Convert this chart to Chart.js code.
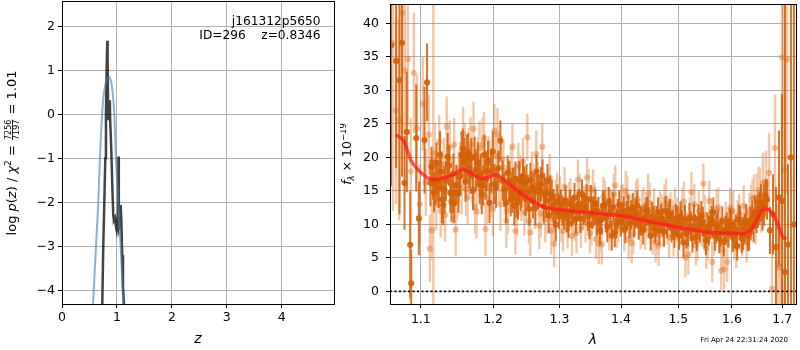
<!DOCTYPE html>
<html><head><meta charset="utf-8">
<script src="https://cdn.jsdelivr.net/npm/chart.js@4.4.0/dist/chart.umd.min.js"></script>
<style>
html,body{margin:0;padding:0;background:#fff;}
#wrap{position:relative;width:800px;height:350px;overflow:hidden;background:#fff}
canvas{position:absolute;top:0}
#c1{left:0}
#c2{left:340px}
</style></head><body>
<div id="wrap"><canvas id="c1" width="340" height="350"></canvas><canvas id="c2" width="460" height="350"></canvas></div>
<script>
// ---------------- left panel: p(z) ----------------
const zTicks = [0, 1, 2, 3, 4];
const lnpTicks = [-4, -3, -2, -1, 0, 1, 2];
const zDark   = [0.733, 0.751, 0.770, 0.788, 0.800, 0.812, 0.824, 0.830, 0.842, 0.858, 0.870, 0.876, 0.897, 0.915, 0.933, 0.945, 0.964, 0.982, 0.994, 1.006, 1.018, 1.028, 1.034, 1.045, 1.055, 1.067, 1.080, 1.095, 1.110, 1.127];
const lnpDark = [-4.31, -3.0, -2.0, -1.0, 0.0, 1.0, 1.67, 1.2, -0.13, 0.0, 0.32, -0.1, -0.8, -1.6, -2.3, -2.4, -2.35, -2.55, -2.63, -2.48, -2.55, -0.96, -2.63, -2.55, -2.3, -2.06, -2.4, -3.2, -3.9, -4.31];
const zBlue   = [0.565, 0.618, 0.660, 0.690, 0.730, 0.764, 0.810, 0.861, 0.900, 0.922, 0.952, 0.982, 1.024, 1.067, 1.115];
const lnpBlue = [-4.31, -3.0, -2.0, -1.0, 0.0, 0.5, 0.78, 0.855, 0.70, 0.5, 0.0, -1.0, -2.0, -3.0, -4.31];
const objName = 'j161312p5650';
const objInfo = 'ID=296    z=0.8346';

// ---------------- right panel: spectrum ----------------
const lamTicks = [1.1, 1.2, 1.3, 1.4, 1.5, 1.6, 1.7];
const fluxTicks = [0, 5, 10, 15, 20, 25, 30, 35, 40];
const dateText = 'Fri Apr 24 22:31:24 2020';

const darkLam = [1.0612,1.0678,1.0721,1.0754,1.0786,1.0816,1.0860,1.0873,1.0939,1.0974,1.1049,1.1083,1.1128,1.1159,1.1195,1.1226,1.1257,1.1284,1.1316,1.1361,1.1398,1.1429,1.1452,1.1511,1.1553,1.1590,1.1626,1.1659,1.1691,1.1737,1.1757,1.1806,1.1838,1.1876,1.1909,1.1948,1.1995,1.2019,1.2044,1.2106,1.2139,1.2189,1.2238,1.2277,1.2311,1.2345,1.2385,1.2419,1.2460,1.2494,1.2535,1.2570,1.2610,1.2645,1.2686,1.2736,1.2773,1.2813,1.2854,1.2905,1.2942,1.2993,
 1.3024,1.3071,1.3118,1.3165,1.3213,1.3260,1.3308,1.3356,1.3404,1.3453,1.3501,1.3550,1.3599,1.3648,1.3697,1.3746,1.3795,1.3845,1.3895,1.3945,1.3995,1.4046,1.4096,1.4147,1.4198,1.4249,1.4300,1.4352,1.4404,1.4456,1.4508,1.4560,1.4613,1.4665,1.4718,1.4771,1.4824,1.4878,1.4931,1.4985,1.5039,1.5093,1.5148,1.5202,1.5257,1.5312,1.5366,1.5422,1.5478,1.5533,1.5589,1.5645,1.5702,1.5758,1.5815,1.5872,1.5929,1.5987,1.6044,1.6102,1.6160,1.6219,1.6277,1.6336,1.6395,1.6454,1.6511,1.6571,1.6631,1.6691,1.6751,1.6812,1.6872,1.6933,1.6994,1.7056,1.7117,1.7179,1.7241];
const darkFlux = [36.7,34.4,31.5,37.1,16.2,23.8,6.95,1.2,22.9,10.9,22.6,31.2,16.2,16.7,16.0,16.4,20.4,13.7,15.2,20.1,14.7,14.7,13.2,14.7,20.4,19.4,19.9,18.4,19.9,20.1,18.2,16.0,14.5,20.4,18.0,13.2,20.9,16.0,15.5,22.5,16.5,13.2,16.5,14.7,12.8,14.0,16.5,15.0,16.2,16.5,12.3,15.5,15.2,17.9,15.0,17.2,14.5,16.5,14.7,12.8,10.0,11.8,
 13.0,11.5,11.0,13.0,12.2,10.8,13.1,14.5,12.5,11.2,13.7,12.0,10.5,9.1,12.8,11.0,13.4,8.3,8.8,11.6,10.4,12.0,11.3,10.1,12.5,11.6,9.9,10.5,11.0,12.0,8.3,10.5,10.5,9.1,10.3,12.0,11.3,9.5,8.7,10.5,11.2,7.3,8.6,11.0,8.0,9.3,10.8,11.3,8.6,9.6,10.0,11.8,9.3,7.9,10.5,9.1,8.8,10.0,8.6,6.8,10.3,8.6,10.5,8.6,11.0,11.8,12.0,13.2,12.8,13.7,9.1,11.5,6.6,14.0,13.5,2.9,7.0,20.0,10.0];
const darkErr = [21,16,20,20,7,9,8,5,8,5.5,8,5.8,3.5,3,3,3,3.5,3.5,3.5,3.5,3,3,3,3,3.5,3.5,3.5,3,3,3,3,3,3,3,3,3,3,3,3,3,3,3,3,3,3,3,3,2.5,2.5,2.5,2.5,2.5,2.5,2.5,2.5,2.5,2.5,2.5,2.5,2.5,2.5,2.5,
 2.2,2.2,2.2,2.2,2.2,2.2,2.2,2.2,2.2,2.2,2.2,2.2,2.2,2.2,2.2,2.2,2.2,2.2,2.2,2.2,2.2,2.2,2.2,2.2,2.2,2.2,2.2,2.2,2.2,2.2,2.2,2.2,2.2,2.2,2.2,2.2,2.2,2.2,2.2,2.2,2.2,2.2,2.2,2.2,2.2,2.2,2.2,2.2,2.2,2.2,2.2,2.2,2.2,2.2,2.2,2.2,2.2,2.2,2.2,2.2,2.5,2.5,2.5,2.5,2.5,2.5,2.5,2.8,3,3,3.5,6,9,10,16,45,12,25,35];

// second (interleaved) set of darker spectrum pixels
const darkLam2 = [1.1143,1.1177,1.1210,1.1241,1.1270,1.1300,1.1338,1.1380,1.1414,1.1440,1.1480,1.1532,1.1571,1.1608,1.1642,1.1675,1.1714,1.1782,1.1822,1.1857,1.1892,1.1928,1.1971,1.2075,1.2164,1.2213,1.2258,1.2294,1.2328,1.2365,1.2402,1.2440,1.2477,1.2514,1.2552,1.2590,1.2628,1.2666,1.2711,1.2755,1.2793,1.2834,1.2880,1.2924,1.2968,
 1.3048,1.3095,1.3142,1.3189,1.3237,1.3284,1.3332,1.3380,1.3429,1.3477,1.3526,1.3575,1.3624,1.3673,1.3722,1.3771,1.3820,1.3870,1.3920,1.3970,1.4021,1.4071,1.4122,1.4173,1.4224,1.4275,1.4326,1.4378,1.4430,1.4482,1.4534,1.4587,1.4639,1.4692,1.4745,1.4798,1.4851,1.4905,1.4958,1.5012,1.5066,1.5121,1.5175,1.5230,1.5285,1.5339,1.5394,1.5450,1.5506,1.5561,1.5617,1.5674,1.5730,1.5787,1.5844,1.5901,1.5958,1.6016,1.6073,1.6131,1.6190,1.6248,1.6307,1.6366,1.6425,1.6483,1.6541,1.6601,1.6661];
const darkFlux2 = [18.6,14.8,19.2,15.4,17.9,12.9,16.5,18.8,13.4,17.6,15.9,17.2,21.3,16.4,20.6,17.5,15.1,19.3,17.6,15.8,16.7,19.5,17.9,18.4,15.2,17.7,13.8,15.9,16.8,13.3,14.6,17.2,13.9,14.8,16.6,13.5,12.4,14.9,16.0,12.7,13.6,11.3,14.1,12.0,13.4,
 12.0,13.6,10.2,11.8,14.0,12.7,10.9,12.2,13.8,10.0,11.5,13.1,11.9,10.7,12.9,9.6,11.8,12.6,10.1,12.9,11.0,9.4,12.2,11.4,10.3,12.8,10.6,9.2,11.9,10.4,11.2,9.4,11.8,10.9,8.9,10.2,11.6,9.9,10.8,8.4,9.9,10.7,8.9,9.7,10.9,8.2,9.5,10.4,7.6,9.0,10.6,8.3,9.9,8.8,7.4,9.6,10.3,8.1,9.3,10.8,7.9,9.4,8.2,10.1,9.8,11.2,12.4,11.6,14.3];
const darkErr2 = [3,3,3,3,3,3,3,3,3,3,3,3,3,3,3,3,3,3,3,3,3,3,3,2.6,2.6,2.6,2.6,2.6,2.6,2.6,2.6,2.6,2.6,2.6,2.6,2.6,2.6,2.6,2.6,2.6,2.6,2.6,2.6,2.6,2.6,
 2.2,2.2,2.2,2.2,2.2,2.2,2.2,2.2,2.2,2.2,2.2,2.2,2.2,2.2,2.2,2.2,2.2,2.2,2.2,2.2,2.2,2.2,2.2,2.2,2.2,2.2,2.2,2.2,2.2,2.2,2.2,2.2,2.2,2.2,2.2,2.2,2.2,2.2,2.2,2.2,2.2,2.2,2.2,2.2,2.2,2.2,2.2,2.2,2.2,2.2,2.2,2.2,2.2,2.2,2.2,2.2,2.2,2.2,2.2,2.2,2.2,2.2,2.2,2.5,2.5,2.5,2.5,2.5,2.5];

const lightLam = [1.0637,1.0677,1.0716,1.0755,1.0791,1.0830,1.0869,1.0909,1.0948,1.0987,1.1026,1.1066,1.1106,1.1120,1.1146,1.1186,1.1226,1.1266,1.1307,1.1348,1.1389,1.1430,1.1471,1.1512,1.1554,1.1595,1.1637,1.1679,1.1721,1.1764,1.1806,1.1849,1.1891,1.1934,1.1977,1.2020,1.2064,1.2107,1.2151,1.2194,1.2238,1.2283,1.2327,1.2371,1.2416,1.2461,1.2506,1.2551,1.2596,1.2641,1.2686,1.2732,1.2778,1.2824,1.2870,1.2916,1.2962,
 1.3008,1.3055,1.3102,1.3150,1.3197,1.3244,1.3292,1.3340,1.3388,1.3437,1.3485,1.3534,1.3583,1.3631,1.3680,1.3730,1.3779,1.3829,1.3878,1.3928,1.3978,1.4029,1.4079,1.4130,1.4181,1.4232,1.4283,1.4335,1.4386,1.4438,1.4490,1.4543,1.4595,1.4647,1.4700,1.4753,1.4806,1.4860,1.4913,1.4967,1.5021,1.5075,1.5129,1.5183,1.5238,1.5293,1.5348,1.5403,1.5459,1.5514,1.5570,1.5626,1.5683,1.5739,1.5796,1.5853,1.5910,1.5967,1.6025,1.6083,1.6141,1.6199,1.6258,1.6315,1.6374,1.6433,1.6492,1.6551,1.6611,1.6671,1.6731,1.6792,1.6852,1.6912,1.6953,1.6994,1.7035,1.7097];
const lightFlux = [37.0,27.0,25.6,41.6,33.0,34.7,17.9,32.6,24.3,13.0,28.0,16.3,23.4,6.4,9.1,20.6,16.5,12.0,18.9,24.6,21.5,14.0,9.2,17.0,15.5,21.1,14.0,22.0,24.3,11.9,21.4,21.9,9.3,19.2,15.0,24.0,23.4,13.0,18.5,10.5,16.0,21.6,9.0,18.7,14.0,11.8,23.0,8.8,15.5,20.5,9.8,21.6,10.8,15.0,9.0,7.1,14.2,
 14.2,9.0,12.0,13.3,8.3,10.5,16.7,9.5,12.8,17.0,8.7,15.2,7.8,7.1,7.0,13.6,10.2,12.3,14.5,9.5,11.8,13.0,15.0,7.8,7.2,12.0,13.8,9.3,12.5,10.8,13.2,8.5,7.3,6.8,11.5,13.0,10.0,11.8,8.2,11.0,9.5,12.5,5.1,5.5,14.8,13.0,7.5,10.2,16.1,6.4,13.5,4.4,9.0,12.5,3.1,3.3,4.4,12.5,12.0,6.5,11.5,8.2,10.0,9.5,12.4,14.0,13.6,14.5,16.2,16.0,17.7,0.4,21.4,4.1,3.6,34.9,18.2,34.6];
const lightErr = [25,14,15,18,12,10,8,9,8,6,7,5,6,5,4.5,4.5,4,4,4,4.5,4,4,4,4,4,4,4,4,4,4,4,4,4,4,4,4,4,4,4,4,3.5,3.5,3.5,3.5,3.5,3.5,3.5,3.5,3.5,3.5,3.5,3.5,3.5,3.5,3.5,3.5,3.5,
 3,3,3,3,3,3,3,3,3,3,3,3,3,3,3,3,3,3,3,3,3,3,3,3,3,3,3,3,3,3,3,3,3,3,3,3,3,3,3,3,3,3,3,3,3,3,3,3,3,3,3,3,3,3,3,3,3,3,3,3,3,3,3,3,3.5,3.5,4,4,4.5,5,6,7,8,9,10,12,30,20,30];

// second (interleaved) set of lighter spectrum pixels
const lightLam2 = [1.1166,1.1206,1.1246,1.1287,1.1328,1.1369,1.1410,1.1451,1.1492,1.1533,1.1575,1.1616,1.1658,1.1700,1.1743,1.1785,1.1828,1.1870,1.1913,1.1956,1.1999,1.2042,1.2086,1.2129,1.2173,1.2216,1.2261,1.2305,1.2349,1.2394,1.2439,1.2484,1.2529,1.2574,1.2619,1.2664,1.2709,1.2755,1.2801,1.2847,1.2893,1.2939,
 1.3031,1.3079,1.3126,1.3174,1.3221,1.3268,1.3316,1.3364,1.3413,1.3461,1.3510,1.3559,1.3607,1.3656,1.3705,1.3755,1.3804,1.3854,1.3903,1.3953,1.4004,1.4054,1.4105,1.4156,1.4207,1.4258,1.4309,1.4361,1.4412,1.4464,1.4517,1.4569,1.4621,1.4674,1.4727,1.4780,1.4833,1.4887,1.4940,1.4994,1.5048,1.5102,1.5156,1.5211,1.5266,1.5321,1.5376,1.5431,1.5487,1.5542,1.5598,1.5655,1.5711,1.5768,1.5825,1.5882,1.5939,1.5996,1.6054,1.6112,1.6170,1.6229,1.6287,1.6345,1.6404,1.6463,1.6522,1.6581];
const lightFlux2 = [19.5,13.1,22.3,17.0,11.4,19.8,16.1,21.9,14.6,18.3,23.5,15.2,20.4,17.1,12.6,19.0,16.3,22.8,14.0,18.6,12.3,20.2,16.7,19.7,14.9,12.1,18.0,15.3,11.7,16.9,19.4,13.6,10.5,17.4,12.8,15.9,11.6,14.3,12.0,17.0,10.9,13.2,
 10.8,15.6,9.4,13.9,11.2,8.7,14.6,12.1,10.3,15.3,9.8,13.2,11.0,8.9,14.1,12.6,9.1,11.6,15.8,10.4,12.9,9.0,14.3,11.3,8.6,13.5,10.8,12.1,9.2,14.6,10.1,12.4,8.4,11.9,9.6,13.8,8.1,10.7,12.5,7.9,10.6,13.4,8.8,11.1,9.4,6.9,12.0,9.7,11.4,7.6,10.9,8.3,12.3,9.1,6.2,10.4,9.5,11.9,7.7,10.6,9.1,12.8,7.3,11.7,13.8,10.5,15.1,12.3];
const lightErr2 = [4,4,4,4,4,4,4,4,4,4,4,4,4,4,4,4,4,4,4,4,3.5,3.5,3.5,3.5,3.5,3.5,3.5,3.5,3.5,3.5,3.5,3.5,3.5,3.5,3.5,3.5,3.5,3.5,3.5,3.5,3.5,3.5,
 3,3,3,3,3,3,3,3,3,3,3,3,3,3,3,3,3,3,3,3,3,3,3,3,3,3,3,3,3,3,3,3,3,3,3,3,3,3,3,3,3,3,3,3,3,3,3,3,3,3,3,3,3,3,3,3,3,3,3,3,3,3,3,3,3.5,3.5,3.5,3.5];

const modelLam  = [1.0672,1.0749,1.0791,1.0878,1.0987,1.1119,1.1253,1.1434,1.1572,1.1665,1.1829,1.1948,1.2045,1.2117,1.2238,1.2385,1.2584,1.2762,1.2993,1.3522,1.4075,1.4443,1.4972,1.5583,1.5992,1.6217,1.6348,1.6478,1.6576,1.6664,1.6776,1.6877,1.7013,1.7081];
const modelFlux = [23.4,22.8,22.1,19.4,17.9,16.8,16.8,17.4,18.2,17.8,16.85,17.1,17.4,17.0,16.0,14.8,13.5,12.6,12.2,11.7,11.2,10.5,9.6,8.8,8.7,8.6,9.05,10.5,12.0,12.3,11.9,10.5,8.1,7.8];

const LAM_MIN = 1.0599, LAM_MAX = 1.7284;
const FONT = "'DejaVu Sans', 'Liberation Sans', sans-serif";

// ---------------- helpers ----------------
function fixedTicks(values){ return function(scale){ scale.ticks = values.map(v => ({value: v})); }; }
function fitBox(w, h){ return function(scale){
  if (w != null) scale.width = w;
  if (h != null) scale.height = h;
  scale.paddingTop = 0; scale.paddingBottom = 0; scale.paddingLeft = 0; scale.paddingRight = 0;
}; }
function minusFmt(v){ return v < 0 ? '\u2212' + Math.abs(v) : String(v); }
function errorSegments(lam, flux, err){
  const out = [];
  for (let i = 0; i < lam.length; i++){
    out.push({x: lam[i], y: flux[i] - err[i]});
    out.push({x: lam[i], y: flux[i] + err[i]});
    out.push({x: lam[i], y: null});
  }
  return out;
}
function pts(xs, ys){ return xs.map((x, i) => ({x: x, y: ys[i]})); }

const dLam = darkLam.concat(darkLam2), dFlux = darkFlux.concat(darkFlux2), dErr = darkErr.concat(darkErr2);
const lLam = lightLam.concat(lightLam2), lFlux = lightFlux.concat(lightFlux2), lErr = lightErr.concat(lightErr2);

const framePlugin = {
  id: 'frame',
  afterDatasetsDraw(chart){
    const {ctx, chartArea: a} = chart;
    ctx.save();
    ctx.strokeStyle = '#000'; ctx.lineWidth = 1;
    const l = Math.round(a.left) + 0.5, t = Math.round(a.top) + 0.5;
    const r = Math.round(a.right) + 0.5, b = Math.round(a.bottom) + 0.5;
    ctx.strokeRect(l, t, r - l, b - t);
    ctx.restore();
  }
};

function drawRich(ctx, parts, cx, cy, rot){
  ctx.save();
  ctx.translate(cx, cy); ctx.rotate(rot);
  ctx.textBaseline = 'alphabetic'; ctx.fillStyle = '#000'; ctx.textAlign = 'left';
  const widths = parts.map(p => {
    ctx.font = p.font;
    if (p.frac) return Math.max(ctx.measureText(p.num).width, ctx.measureText(p.den).width) + 2;
    return ctx.measureText(p.t).width;
  });
  const total = widths.reduce((s, w) => s + w, 0);
  let x = -total / 2;
  parts.forEach((p, i) => {
    ctx.font = p.font;
    if (p.frac){
      const w = widths[i];
      ctx.textAlign = 'center';
      ctx.fillText(p.num, x + w / 2, p.numDy);
      ctx.fillText(p.den, x + w / 2, p.denDy);
      ctx.fillRect(x + 1, p.barDy, w - 2, 0.8);
      ctx.textAlign = 'left';
    } else {
      ctx.fillText(p.t, x, p.dy || 0);
    }
    x += widths[i];
  });
  ctx.restore();
}

const M13 = "13px " + FONT, I13 = "italic 13px " + FONT;
const leftText = {
  id: 'leftText',
  afterDraw(chart){
    const ctx = chart.ctx;
    drawRich(ctx, [
      {t: 'log ', font: M13},
      {t: 'p', font: I13},
      {t: '(', font: M13},
      {t: 'z', font: I13},
      {t: ') / ', font: M13},
      {t: '\u03c7', font: I13},
      {t: '2', font: "9px " + FONT, dy: -5},
      {t: ' = ', font: M13},
      {frac: true, num: '7256', den: '7197', font: "8px " + FONT, numDy: -4.6, denDy: 3.0, barDy: -3.9},
      {t: ' = 1.01', font: M13}
    ], 16, 153, -Math.PI / 2);
    ctx.save();
    ctx.fillStyle = '#000';
    ctx.font = "12.2px " + FONT;
    ctx.textAlign = 'right'; ctx.textBaseline = 'alphabetic';
    ctx.fillText(objName, 320.5, 24.5);
    ctx.fillText(objInfo, 320.5, 38.5);
    ctx.restore();
  }
};

const rightText = {
  id: 'rightText',
  afterDraw(chart){
    const ctx = chart.ctx;
    drawRich(ctx, [
      {t: 'f', font: "italic 12.5px " + FONT},
      {t: '\u03bb', font: "italic 8.5px " + FONT, dy: 2.5},
      {t: ' \u00d7 10', font: "12.5px " + FONT},
      {t: '\u221219', font: "8.5px " + FONT, dy: -5}
    ], 11, 154, -Math.PI / 2);
    ctx.save();
    ctx.fillStyle = '#000';
    ctx.font = "7px " + FONT;
    ctx.textAlign = 'right'; ctx.textBaseline = 'alphabetic';
    ctx.fillText(dateText, 788 - 340, 342);
    ctx.restore();
  }
};

const gridOpts = {color: '#b0b0b0', lineWidth: 1, tickColor: '#000', tickLength: 4, drawTicks: true};
const tickFont = {family: FONT, size: 12.5};

// ---------------- left chart ----------------
new Chart(document.getElementById('c1'), {
  type: 'scatter',
  data: {datasets: [
    {data: pts(zBlue, lnpBlue), showLine: true, borderColor: 'rgba(70,130,180,0.62)', borderWidth: 2, pointRadius: 0, tension: 0.3, order: 0},
    {data: pts(zDark, lnpDark), showLine: true, borderColor: 'rgba(0,0,0,0.74)', borderWidth: 2.5, pointRadius: 0, tension: 0, order: 1}
  ]},
  options: {
    responsive: false, animation: false, events: [], devicePixelRatio: 1,
    layout: {padding: {top: 1, right: 6, left: 0, bottom: 0}},
    plugins: {legend: {display: false}, tooltip: {enabled: false}},
    scales: {
      x: {type: 'linear', min: 0, max: 4.95, bounds: 'data',
        afterBuildTicks: fixedTicks(zTicks), afterFit: fitBox(null, 46),
        grid: gridOpts, border: {display: false},
        ticks: {color: '#000', font: tickFont, padding: 2.5, maxRotation: 0, autoSkip: false},
        title: {display: true, text: 'z', color: '#000', font: {family: FONT, size: 14, style: 'italic'}, padding: {top: 0, bottom: 2}}},
      y: {type: 'linear', min: -4.31, max: 2.575, bounds: 'data',
        afterBuildTicks: fixedTicks(lnpTicks), afterFit: fitBox(62, null),
        grid: gridOpts, border: {display: false},
        ticks: {color: '#000', font: tickFont, padding: 3, autoSkip: false, callback: v => minusFmt(v)}}
    }
  },
  plugins: [framePlugin, leftText]
});

// ---------------- right chart ----------------
new Chart(document.getElementById('c2'), {
  type: 'scatter',
  data: {datasets: [
    {data: pts(modelLam, modelFlux), showLine: true, borderColor: 'rgba(255,25,25,0.72)', borderWidth: 3.5, pointRadius: 0, tension: 0.3, order: 0},
    {data: [{x: LAM_MIN, y: 0}, {x: LAM_MAX, y: 0}], showLine: true, borderColor: '#000', borderWidth: 1.6, borderDash: [2, 2.5], pointRadius: 0, order: 1},
    {data: pts(dLam, dFlux), pointRadius: 3.1, pointBorderWidth: 0, backgroundColor: 'rgba(212,96,8,0.9)', order: 2},
    {data: errorSegments(dLam, dFlux, dErr), showLine: true, spanGaps: false, borderColor: 'rgba(212,96,8,0.88)', borderWidth: 2, pointRadius: 0, order: 3},
    {data: pts(lLam, lFlux), pointRadius: 3.1, pointBorderWidth: 0, backgroundColor: 'rgba(222,112,32,0.42)', order: 4},
    {data: errorSegments(lLam, lFlux, lErr), showLine: true, spanGaps: false, borderColor: 'rgba(222,112,32,0.4)', borderWidth: 2.4, pointRadius: 0, order: 5}
  ]},
  options: {
    responsive: false, animation: false, events: [], devicePixelRatio: 1,
    layout: {padding: {top: 1, right: 2, left: 0, bottom: 0}},
    plugins: {legend: {display: false}, tooltip: {enabled: false}},
    scales: {
      x: {type: 'logarithmic', min: LAM_MIN, max: LAM_MAX, bounds: 'data',
        afterBuildTicks: fixedTicks(lamTicks), afterFit: fitBox(null, 46),
        grid: gridOpts, border: {display: false},
        ticks: {color: '#000', font: tickFont, padding: 4.5, maxRotation: 0, autoSkip: false, callback: v => Number(v).toFixed(1)},
        title: {display: true, text: '\u03bb', color: '#000', font: {family: FONT, size: 14, style: 'italic'}, padding: {top: 0, bottom: 1}}},
      y: {type: 'linear', min: -1.88, max: 42.9, bounds: 'data',
        afterBuildTicks: fixedTicks(fluxTicks), afterFit: fitBox(50, null),
        grid: gridOpts, border: {display: false},
        ticks: {color: '#000', font: tickFont, padding: 7, autoSkip: false, callback: v => minusFmt(v)}}
    }
  },
  plugins: [framePlugin, rightText]
});
</script></body></html>
